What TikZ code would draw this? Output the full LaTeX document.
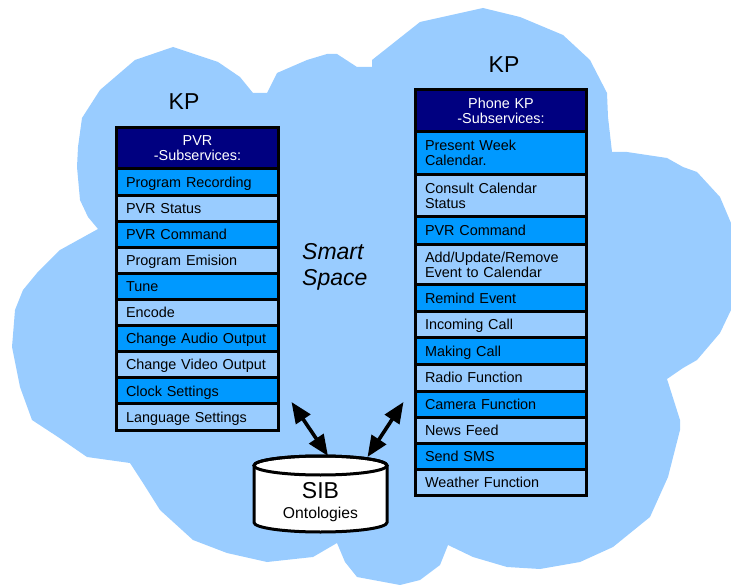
\documentclass[tikz,border=0pt]{standalone}
\usepackage{fontspec}
\setmainfont{Liberation Sans}
\usetikzlibrary{arrows.meta}
\definecolor{cloudblue}{HTML}{99CCFF}
\definecolor{navyhead}{HTML}{000080}
\definecolor{brightblue}{HTML}{0099FF}
\definecolor{lightcell}{HTML}{99CCFF}
\begin{document}
\begin{tikzpicture}[x=1pt,y=-1pt,
  cellbase/.style={draw=black, line width=3pt, inner xsep=9.5pt, inner ysep=0pt,
    align=left, font=\fontsize{14.4}{15}\selectfont, anchor=center},
  one/.style={text height=10.3pt, text depth=0pt},
  lcell/.style={cellbase, minimum width=162pt, text width=143pt},
  rcell/.style={cellbase, minimum width=171pt, text width=152pt},
  hi/.style={fill=brightblue},
  lo/.style={fill=lightcell},
  head/.style={fill=navyhead, text=white, align=center},
  kplabel/.style={font=\fontsize{23}{27}\selectfont, inner sep=0pt, anchor=base},
  smart/.style={font=\fontsize{23}{27}\selectfont\itshape, inner sep=0pt, anchor=base west},
  link/.style={line width=3.6pt, {Triangle[length=21pt,width=17pt]}-{Triangle[length=21pt,width=17pt]}}
]
\useasboundingbox (0,0) rectangle (731,585);
% cloud
\fill[cloudblue] (82,118) -- (100,90) -- (135,60) -- (173,47) -- (218,62) -- (240,77)
  -- (253,93) -- (267,93) -- (277,73) -- (307,60) -- (327,54) -- (337,54) -- (357,67)
  -- (372,67) -- (372,60) -- (420,22) -- (483,8) -- (520,17) -- (563,35) -- (590,60)
  -- (607,93) -- (608,117) -- (612,152) -- (627,152) -- (667,158) -- (683,167)
  -- (697,172) -- (720,197) -- (731,223) -- (731,310) -- (720,333) -- (697,360)
  -- (683,368) -- (667,379) -- (680,420) -- (680,430) -- (668,477) -- (650,517)
  -- (613,547) -- (580,562) -- (540,569) -- (507,567) -- (473,557) -- (448,545)
  -- (440,565) -- (420,580) -- (400,585) -- (357,577) -- (345,562) -- (337,543)
  -- (313,557) -- (267,562) -- (227,553) -- (193,540) -- (160,510) -- (143,483)
  -- (130,463) -- (87,457) -- (58,437) -- (32,420) -- (20,387) -- (12,347)
  -- (15,310) -- (23,290) -- (37,273) -- (60,250) -- (98,229) -- (88,217)
  -- (80,200) -- (77,167) -- (78,147) -- cycle;

% labels
\node[kplabel] (kpl) at (184,110) {KP};
\node[kplabel] (kpr) at (504,72.7) {KP};
\node[smart] (ss1) at (302,259.3) {Smart};
\node[smart] (ss2) at (302,285.3) {Space};

% left KP table
\node[lcell, head, minimum height=41.5pt] (lh) at (197.5,148.25) {PVR\\-Subservices:};
\node[lcell, one, hi, minimum height=26.1pt] (l1) at (197.5,182.05) {Program Recording};
\node[lcell, one, lo, minimum height=26.1pt] (l2) at (197.5,208.15) {PVR Status};
\node[lcell, one, hi, minimum height=26.1pt] (l3) at (197.5,234.25) {PVR Command};
\node[lcell, one, lo, minimum height=26.1pt] (l4) at (197.5,260.35) {Program Emision};
\node[lcell, one, hi, minimum height=26.1pt] (l5) at (197.5,286.45) {Tune};
\node[lcell, one, lo, minimum height=26.1pt] (l6) at (197.5,312.55) {Encode};
\node[lcell, one, hi, minimum height=26.1pt] (l7) at (197.5,338.65) {Change Audio Output};
\node[lcell, one, lo, minimum height=26.1pt] (l8) at (197.5,364.75) {Change Video Output};
\node[lcell, one, hi, minimum height=26.1pt] (l9) at (197.5,390.85) {Clock Settings};
\node[lcell, one, lo, minimum height=26.1pt] (l10) at (197.5,416.95) {Language Settings};

% right KP table
\node[rcell, head, minimum height=42pt] (rh) at (501,110.5) {Phone KP\\-Subservices:};
\node[rcell, hi, minimum height=43.5pt] (r1) at (501,153.25) {Present Week\\Calendar.};
\node[rcell, lo, minimum height=41.5pt] (r2) at (501,195.75) {Consult Calendar\\Status};
\node[rcell, one, hi, minimum height=28pt] (r3) at (501,230.5) {PVR Command};
\node[rcell, lo, minimum height=40.5pt] (r4) at (501,264.75) {Add/Update/Remove\\Event to Calendar};
\node[rcell, one, hi, minimum height=26.5pt] (r5) at (501,298.25) {Remind Event};
\node[rcell, one, lo, minimum height=26.5pt] (r6) at (501,324.75) {Incoming Call};
\node[rcell, one, hi, minimum height=26.5pt] (r7) at (501,351.25) {Making Call};
\node[rcell, one, lo, minimum height=26.5pt] (r8) at (501,377.75) {Radio Function};
\node[rcell, one, hi, minimum height=26pt] (r9) at (501,404) {Camera Function};
\node[rcell, one, lo, minimum height=26.5pt] (r10) at (501,430.25) {News Feed};
\node[rcell, one, hi, minimum height=26pt] (r11) at (501,456.5) {Send SMS};
\node[rcell, one, lo, minimum height=26pt] (r12) at (501,482.5) {Weather Function};

% SIB cylinder
\filldraw[fill=white, draw=black, line width=3pt] (254,465.5) -- (254,522.5)
  arc[start angle=180, end angle=360, x radius=66.5pt, y radius=9.5pt]
  -- (387,465.5)
  arc[start angle=0, end angle=180, x radius=66.5pt, y radius=9.5pt] -- cycle;
\draw[line width=3pt] (320.5,465.5) ellipse[x radius=66.5pt, y radius=9.5pt];
\node[font=\fontsize{23}{27}\selectfont, inner sep=0pt, anchor=base] (sib) at (320.5,498.5) {SIB};
\node[font=\fontsize{15.7}{18}\selectfont, inner sep=0pt, anchor=base] (ont) at (320.5,518) {Ontologies};

% connectors
\coordinate (la) at (291.5,402);
\coordinate (lb) at (328,456);
\coordinate (ra) at (403.5,402);
\coordinate (rb) at (367.5,457);
\draw[link] (la) -- (lb);
\draw[link] (ra) -- (rb);
\end{tikzpicture}
\end{document}
